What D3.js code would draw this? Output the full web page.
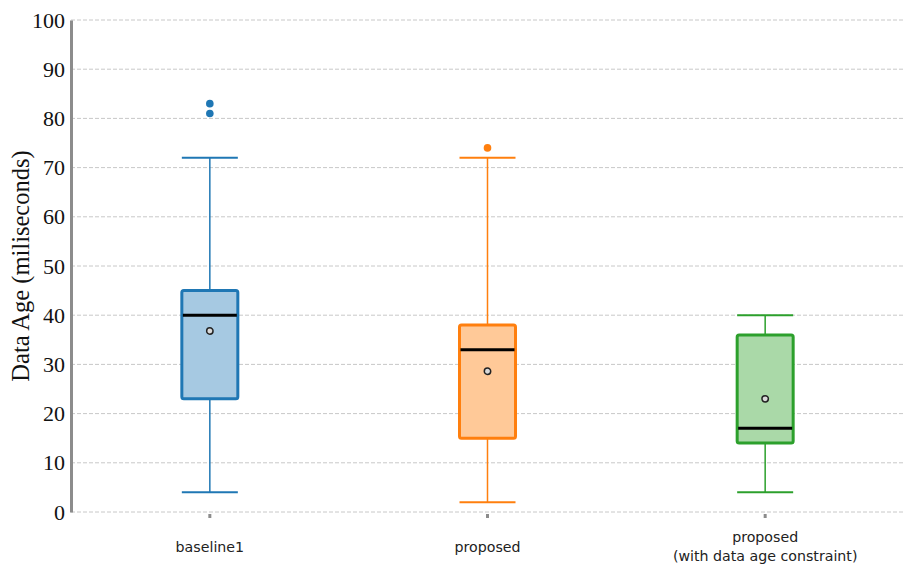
<!DOCTYPE html>
<html>
<head>
  <meta charset="UTF-8">
  <style>
    body { margin: 0; background: white; }
    svg { display: block; }
  </style>
</head>
<body>
<svg></svg>
<script src="https://d3js.org/d3.v7.min.js"></script>
<script>
let width = 905, height = 568;

// data
const groups = ["baseline1", "proposed", "proposed\n(with data age constraint)"];
const whiskerLow = [4, 2, 4];
const q1 = [23, 15, 14];
const median = [40, 33, 17];
const q3 = [45, 38, 36];
const whiskerHigh = [72, 72, 40];
const means = [36.8, 28.6, 23];
const outliers = [[81, 83], [74], []];
const yTicks = [0, 10, 20, 30, 40, 50, 60, 70, 80, 90, 100];

const strokeColors = ["#1f77b4", "#ff7f0e", "#2ca02c"];
const fillColors = ["#a6c9e2", "#ffc998", "#aad9a8"];

const margin = {left: 71, right: 1, top: 20, bottom: 56};

let svg = d3.select("svg")
    .attr("width", width)
    .attr("height", height);

const x = d3.scaleBand()
    .domain(groups)
    .range([margin.left, width - margin.right]);

const y = d3.scaleLinear()
    .domain([0, 100])
    .range([height - margin.bottom, margin.top]);

// gridlines
svg.append("g")
    .selectAll("line")
    .data(yTicks)
    .join("line")
    .attr("x1", margin.left)
    .attr("x2", width - margin.right)
    .attr("y1", d => y(d))
    .attr("y2", d => y(d))
    .attr("stroke", "#c8c8c8")
    .attr("stroke-width", 1)
    .attr("stroke-dasharray", "4,2");

// y axis
const yAxis = svg.append("g")
    .attr("transform", `translate(${margin.left},0)`)
    .call(d3.axisLeft(y).tickValues(yTicks).tickSize(0).tickPadding(6));
yAxis.select(".domain")
    .attr("stroke", "#8c8c8c")
    .attr("stroke-width", 3);
yAxis.selectAll("text")
    .style("font-family", "'Liberation Serif', serif")
    .style("font-size", "22px")
    .attr("fill", "#111");

// x axis
const xAxis = svg.append("g")
    .attr("transform", `translate(0,${y(0)})`)
    .call(d3.axisBottom(x).tickSize(6).tickPadding(16));
xAxis.select(".domain").remove();
xAxis.selectAll(".tick line")
    .attr("stroke", "#8c8c8c")
    .attr("stroke-width", 3)
    .attr("y1", 2);
xAxis.selectAll(".tick text").each(function(d) {
    const t = d3.select(this);
    const lines = d.split("\n");
    t.text(null)
        .style("font-family", "'DejaVu Sans', Verdana, sans-serif")
        .style("font-size", "14.2px")
        .attr("fill", "#222");
    t.attr("y", lines.length === 1 ? 40 : 30);
    lines.forEach((l, i) => {
        t.append("tspan")
            .attr("x", 0)
            .attr("dy", i === 0 ? 0 : 19)
            .text(l);
    });
});

// y label
svg.append("text")
    .attr("transform", `translate(29,${(y(0) + y(100)) / 2}) rotate(-90)`)
    .attr("text-anchor", "middle")
    .style("font-family", "'Liberation Serif', serif")
    .style("font-size", "24.5px")
    .attr("fill", "#111")
    .text("Data Age (miliseconds)");

// boxes
const boxW = 56;
const g = svg.append("g")
    .selectAll("g")
    .data(groups)
    .join("g")
    .attr("transform", d => `translate(${x(d) + x.bandwidth() / 2},0)`);

g.append("line")
    .attr("x1", 0).attr("x2", 0)
    .attr("y1", (d, i) => y(whiskerLow[i]))
    .attr("y2", (d, i) => y(whiskerHigh[i]))
    .attr("stroke", (d, i) => strokeColors[i])
    .attr("stroke-width", 1.5);

g.selectAll(".cap")
    .data((d, i) => [whiskerLow[i], whiskerHigh[i]].map(v => ({v, i})))
    .join("line")
    .attr("class", "cap")
    .attr("x1", -boxW / 2).attr("x2", boxW / 2)
    .attr("y1", d => y(d.v)).attr("y2", d => y(d.v))
    .attr("stroke", d => strokeColors[d.i])
    .attr("stroke-width", 2);

g.append("rect")
    .attr("x", -boxW / 2)
    .attr("width", boxW)
    .attr("y", (d, i) => y(q3[i]))
    .attr("height", (d, i) => y(q1[i]) - y(q3[i]))
    .attr("rx", 2)
    .attr("fill", (d, i) => fillColors[i])
    .attr("stroke", (d, i) => strokeColors[i])
    .attr("stroke-width", 3);

g.append("line")
    .attr("x1", -boxW / 2 + 1).attr("x2", boxW / 2 - 1)
    .attr("y1", (d, i) => y(median[i]))
    .attr("y2", (d, i) => y(median[i]))
    .attr("stroke", "#000")
    .attr("stroke-width", 3);

g.append("circle")
    .attr("cx", 0)
    .attr("cy", (d, i) => y(means[i]))
    .attr("r", 3.2)
    .attr("fill", "#d9d9d9")
    .attr("stroke", "#222")
    .attr("stroke-width", 1.5);

g.selectAll(".outlier")
    .data((d, i) => outliers[i].map(v => ({v, i})))
    .join("circle")
    .attr("class", "outlier")
    .attr("cx", 0)
    .attr("cy", d => y(d.v))
    .attr("r", 3.8)
    .attr("fill", d => strokeColors[d.i]);
</script>
</body>
</html>
